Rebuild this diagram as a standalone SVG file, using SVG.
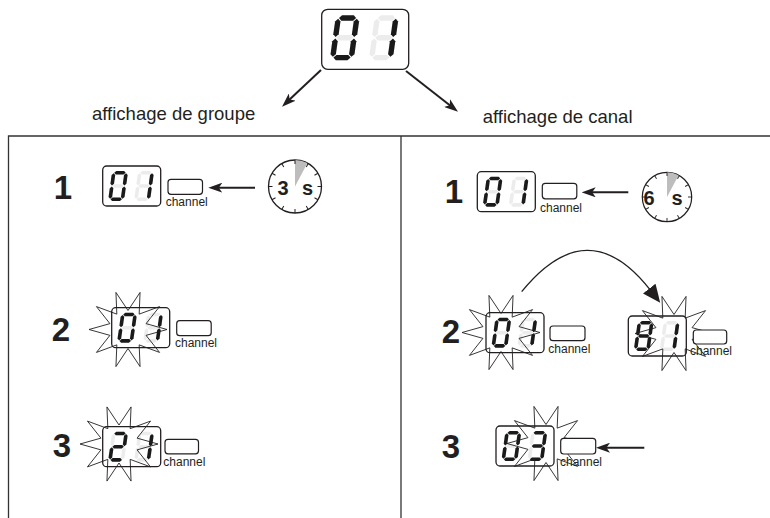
<svg xmlns="http://www.w3.org/2000/svg" xmlns:xlink="http://www.w3.org/1999/xlink" width="770" height="518" viewBox="0 0 770 518">
<style>
.on{fill:#1a1a1a}
.off{fill:#ececec}
.box{fill:#fff;stroke:#231f20;stroke-width:1.3}
.btn{fill:#fff;stroke:#231f20;stroke-width:1.2}
.lbl{font-family:"Liberation Sans",Arial,sans-serif;fill:#231f20}
.ch{font-size:12px}
.step{font-size:33px;font-weight:bold;text-anchor:middle}
.sec{font-size:20px;font-weight:bold;text-anchor:middle}
.cap{font-size:18.5px}
.star{fill:none;stroke:#231f20;stroke-width:0.9}
.frame{fill:none;stroke:#333;stroke-width:1.3}
.arr{fill:none;stroke:#231f20;stroke-width:2}
.arc{fill:none;stroke:#231f20;stroke-width:1.3}
.clock{fill:#fff;stroke:#231f20;stroke-width:1.3}
.tick{stroke:#231f20;stroke-width:1}
.wedge{fill:#bdbdbd}
</style>
<defs>
<path id="sa" d="M2.3,1.8L4.1,0L11.9,0L13.7,1.8L11.9,3.6L4.1,3.6Z"/>
<path id="sg" d="M2.3,15L4.1,13.2L11.9,13.2L13.7,15L11.9,16.8L4.1,16.8Z"/>
<path id="sd" d="M2.3,28.2L4.1,26.4L11.9,26.4L13.7,28.2L11.9,30L4.1,30Z"/>
<path id="sf" d="M1.8,2.3L3.6,4.1L3.6,12.7L1.8,14.5L0,12.7L0,4.1Z"/>
<path id="sb" d="M14.2,2.3L16,4.1L16,12.7L14.2,14.5L12.4,12.7L12.4,4.1Z"/>
<path id="se" d="M1.8,15.5L3.6,17.3L3.6,25.9L1.8,27.7L0,25.9L0,17.3Z"/>
<path id="sc" d="M14.2,15.5L16,17.3L16,25.9L14.2,27.7L12.4,25.9L12.4,17.3Z"/>
<g id="g8" class="off"><use href="#sa"/><use href="#sb"/><use href="#sc"/><use href="#sd"/><use href="#se"/><use href="#sf"/><use href="#sg"/></g>
<g id="d0"><use href="#g8"/><g class="on"><use href="#sa"/><use href="#sb"/><use href="#sc"/><use href="#sd"/><use href="#se"/><use href="#sf"/></g></g>
<g id="d1"><use href="#g8"/><g class="on"><use href="#sb"/><use href="#sc"/></g></g>
<g id="d2"><use href="#g8"/><g class="on"><use href="#sa"/><use href="#sb"/><use href="#sg"/><use href="#se"/><use href="#sd"/></g></g>
<g id="d3"><use href="#g8"/><g class="on"><use href="#sa"/><use href="#sb"/><use href="#sg"/><use href="#sc"/><use href="#sd"/></g></g>
<g id="d8"><g class="on"><use href="#sa"/><use href="#sb"/><use href="#sc"/><use href="#sd"/><use href="#se"/><use href="#sf"/><use href="#sg"/></g></g>
<path id="star" class="star" d="M0,-19L12.05,-37.09L11.17,-15.37L31.55,-22.92L18.07,-5.87L39,0L18.07,5.87L31.55,22.92L11.17,15.37L12.05,37.09L0,19L-12.05,37.09L-11.17,15.37L-31.55,22.92L-18.07,5.87L-39,0L-18.07,-5.87L-31.55,-22.92L-11.17,-15.37L-12.05,-37.09Z"/>
<g id="clockface">
<circle class="clock" r="26.5"/>
<path class="wedge" d="M0,0L0,-26.5A26.5,26.5 0 0 1 12.44,-23.4Z"/>
<g class="tick">
<line x1="0" y1="-26.5" x2="0" y2="-22.5"/>
<line x1="0" y1="-26.5" x2="0" y2="-22.5" transform="rotate(30)"/>
<line x1="0" y1="-26.5" x2="0" y2="-22.5" transform="rotate(60)"/>
<line x1="0" y1="-26.5" x2="0" y2="-22.5" transform="rotate(90)"/>
<line x1="0" y1="-26.5" x2="0" y2="-22.5" transform="rotate(120)"/>
<line x1="0" y1="-26.5" x2="0" y2="-22.5" transform="rotate(150)"/>
<line x1="0" y1="-26.5" x2="0" y2="-22.5" transform="rotate(180)"/>
<line x1="0" y1="-26.5" x2="0" y2="-22.5" transform="rotate(210)"/>
<line x1="0" y1="-26.5" x2="0" y2="-22.5" transform="rotate(240)"/>
<line x1="0" y1="-26.5" x2="0" y2="-22.5" transform="rotate(270)"/>
<line x1="0" y1="-26.5" x2="0" y2="-22.5" transform="rotate(300)"/>
<line x1="0" y1="-26.5" x2="0" y2="-22.5" transform="rotate(330)"/>
</g>
</g>
<marker id="ah" viewBox="0 0 14 10" markerWidth="14" markerHeight="10" refX="8" refY="5" orient="auto" markerUnits="userSpaceOnUse">
<path d="M0,0L14,5L0,10L3.5,5Z" fill="#231f20"/>
</marker>
<marker id="ahbig" viewBox="0 0 18 16" markerWidth="18" markerHeight="16" refX="2" refY="8" orient="auto" markerUnits="userSpaceOnUse">
<path d="M0,0L18,8L0,16Z" fill="#231f20"/>
</marker>
</defs>

<rect width="770" height="518" fill="#fff"/>

<g id="frame">
<path class="frame" d="M8.5,518V136H770M401,136V518"/>
</g>

<g id="display-top" transform="translate(321.7,9.3) scale(1.5)">
<rect class="box" width="58" height="40" rx="4" vector-effect="non-scaling-stroke"/>
<use href="#d0" transform="translate(9.5,4) skewX(-8)"/>
<use href="#d1" transform="translate(35.5,4) skewX(-8)"/>
</g>

<g id="caption-groupe"><text class="lbl cap" x="92" y="120">affichage de groupe</text></g>
<g id="caption-canal"><text class="lbl cap" x="482.7" y="122.7">affichage de canal</text></g>

<g id="left-step1">
<text class="lbl step" x="63" y="199">1</text>
<g transform="translate(102.7,166)">
<rect class="box" width="58" height="40" rx="4"/>
<use href="#d0" transform="translate(9.5,5) skewX(-8)"/>
<use href="#d1" transform="translate(35.5,5) skewX(-8)"/>
</g>
<rect class="btn" x="168" y="179.3" width="34.5" height="15" rx="3"/>
<text class="lbl ch" x="165.7" y="206">channel</text>
</g>

<g id="left-clock">
<use href="#clockface" transform="translate(295,186.5)"/>
<text class="lbl sec" x="283" y="195">3</text>
<text class="lbl sec" x="307.5" y="195">s</text>
</g>

<g id="left-step2">
<text class="lbl step" x="61" y="341">2</text>
<g transform="translate(111.7,307.7)">
<rect class="box" width="58" height="40" rx="4"/>
<use href="#d0" transform="translate(9.5,5) skewX(-8)"/>
<use href="#d1" transform="translate(35.5,5) skewX(-8)"/>
</g>
<use href="#star" transform="translate(128,329.5)"/>
<rect class="btn" x="176.7" y="320.7" width="34.5" height="15" rx="3"/>
<text class="lbl ch" x="175" y="346.7">channel</text>
</g>

<g id="left-step3">
<text class="lbl step" x="62" y="457">3</text>
<g transform="translate(102.7,426.7)">
<rect class="box" width="58" height="40" rx="4"/>
<use href="#d2" transform="translate(9.5,5) skewX(-8)"/>
<use href="#d1" transform="translate(35.5,5) skewX(-8)"/>
</g>
<use href="#star" transform="translate(119,444)"/>
<rect class="btn" x="165" y="439.3" width="33.5" height="14.5" rx="3"/>
<text class="lbl ch" x="163.3" y="466">channel</text>
</g>

<g id="right-step1">
<text class="lbl step" x="454" y="203">1</text>
<g transform="translate(477.3,171.7)">
<rect class="box" width="58" height="40" rx="4"/>
<use href="#d0" transform="translate(9.5,5) skewX(-8)"/>
<use href="#d1" transform="translate(35.5,5) skewX(-8)"/>
</g>
<rect class="btn" x="542.3" y="183.3" width="34.5" height="15.5" rx="3"/>
<text class="lbl ch" x="540" y="211.7">channel</text>
</g>

<g id="right-clock">
<use href="#clockface" transform="translate(667,197) scale(0.932)"/>
<text class="lbl sec" x="649" y="205">6</text>
<text class="lbl sec" x="677" y="205">s</text>
</g>

<g id="right-step2">
<text class="lbl step" x="451" y="343">2</text>
<g transform="translate(486,312.7)">
<rect class="box" width="58" height="40" rx="4"/>
<use href="#d0" transform="translate(9.5,5) skewX(-8)"/>
<use href="#d1" transform="translate(35.5,5) skewX(-8)"/>
</g>
<use href="#star" transform="translate(501,332.5)"/>
<rect class="btn" x="550" y="326" width="35" height="14.7" rx="3"/>
<text class="lbl ch" x="548.3" y="353.3">channel</text>
</g>

<g id="right-step2b">
<g transform="translate(628.3,316)">
<rect class="box" width="58" height="40" rx="4"/>
<use href="#d8" transform="translate(9.5,5) skewX(-8)"/>
<use href="#d1" transform="translate(35.5,5) skewX(-8)"/>
</g>
<use href="#star" transform="translate(674,333.5)"/>
<rect class="btn" x="693.3" y="330" width="33.4" height="14" rx="3"/>
<text class="lbl ch" x="690" y="355">channel</text>
</g>

<g id="right-step3">
<text class="lbl step" x="451" y="458">3</text>
<g transform="translate(496,426)">
<rect class="box" width="58" height="40" rx="4"/>
<use href="#d0" transform="translate(9.5,5) skewX(-8)"/>
<use href="#d3" transform="translate(35.5,5) skewX(-8)"/>
</g>
<use href="#star" transform="translate(546,443.5)"/>
<rect class="btn" x="560.7" y="438.3" width="35" height="15.7" rx="3"/>
<text class="lbl ch" x="560" y="466">channel</text>
</g>

<g id="connectors">
<line class="arr" x1="321" y1="70" x2="286.4" y2="102.6" marker-end="url(#ah)"/>
<line class="arr" x1="406" y1="71" x2="453.3" y2="108" marker-end="url(#ah)"/>
<line class="arr" x1="255" y1="187.7" x2="214.3" y2="187.7" marker-end="url(#ah)"/>
<line class="arr" x1="628.3" y1="192.3" x2="587.7" y2="192.3" marker-end="url(#ah)"/>
<line class="arr" x1="644.3" y1="447.7" x2="602" y2="447.7" marker-end="url(#ah)"/>
<path class="arc" d="M521.7,291.7Q588,210 650.4,290.2" marker-end="url(#ahbig)"/>
</g>
</svg>
